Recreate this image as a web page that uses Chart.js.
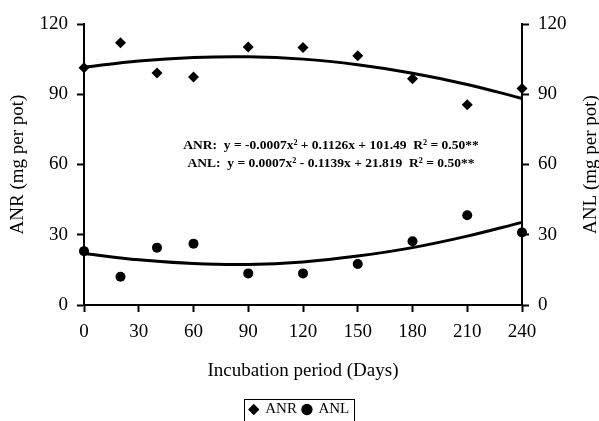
<!DOCTYPE html>
<html>
<head>
<meta charset="utf-8">
<script src="https://cdn.jsdelivr.net/npm/chart.js@4"></script>
<style>
  html, body { margin: 0; padding: 0; background: #fff; }
  canvas { display: block; }
</style>
</head>
<body>
<canvas id="anChart" width="599" height="421"></canvas>
<script>
// Observed data (days of incubation)
const anrDays = [0, 20, 40, 60, 90, 120, 150, 180, 210, 240];
const anrValues = [101.3, 112, 99.1, 97.4, 110.2, 110, 106.4, 96.6, 85.5, 92.5];

const anlDays = [0, 20, 40, 60, 90, 120, 150, 180, 210, 240];
const anlValues = [23, 12.1, 24.5, 26.2, 13.5, 13.5, 17.5, 27.2, 38.3, 31];

// Fitted curves
const trendDays = [0, 30, 60, 90, 120, 150, 180, 210, 240];
const anrTrend = [101.5, 104.2, 105.7, 106, 105, 102.6, 99, 94.2, 88.2];
const anlTrend = [22, 19.3, 17.7, 17.3, 18.4, 20.9, 24.5, 29.4, 35.3];

const xTicks = [0, 30, 60, 90, 120, 150, 180, 210, 240];
const yTicks = [0, 30, 60, 90, 120];

const eqLines = [
    'ANR:  y = -0.0007x\u00B2 + 0.1126x + 101.49  R\u00B2 = 0.50**',
    'ANL:  y = 0.0007x\u00B2 - 0.1139x + 21.819  R\u00B2 = 0.50**'
];

const serif = "'Liberation Serif', 'Times New Roman', serif";

const toPoints = (xs, ys) => xs.map((x, i) => ({ x: x, y: ys[i] }));

// y axis shared settings
function yAxis(position) {
    return {
        type: 'linear',
        position: position,
        min: 0,
        max: 120,
        afterBuildTicks: s => { s.ticks = yTicks.map(v => ({ value: v })); },
        ticks: { color: '#000', padding: 9, font: { family: serif, size: 19 } },
        grid: { drawOnChartArea: false, drawTicks: true, tickLength: 7, tickWidth: 2, color: '#000' },
        border: { display: true, color: '#000', width: 2 }
    };
}

// extra text: right title, equations, legend frame
const extrasPlugin = {
    id: 'extras',
    afterInit(chart) {
        const legend = chart.legend;
        if (legend) {
            const origFit = legend.fit;
            legend.fit = function () {
                origFit.call(this);
                this.height = 25;
            };
        }
    },
    afterDraw(chart) {
        const ctx = chart.ctx;
        const area = chart.chartArea;
        ctx.save();
        ctx.fillStyle = '#000';
        ctx.font = '19px ' + serif;
        ctx.textAlign = 'center';
        ctx.textBaseline = 'middle';
        ctx.translate(591, (area.top + area.bottom) / 2);
        ctx.rotate(-Math.PI / 2);
        ctx.fillText('ANL (mg per pot)', 0, 0);
        ctx.restore();

        ctx.save();
        ctx.fillStyle = '#000';
        ctx.font = 'bold 13.5px ' + serif;
        ctx.textAlign = 'center';
        ctx.textBaseline = 'middle';
        ctx.fillText(eqLines[0], 331, 146);
        ctx.fillText(eqLines[1], 331, 164);
        ctx.restore();

        const boxes = chart.legend.legendHitBoxes;
        if (boxes && boxes.length) {
            const x0 = Math.min(...boxes.map(b => b.left)) - 6;
            const x1 = Math.max(...boxes.map(b => b.left + b.width)) + 5;
            const y0 = Math.min(...boxes.map(b => b.top)) - 3;
            ctx.save();
            ctx.strokeStyle = '#000';
            ctx.lineWidth = 1;
            ctx.strokeRect(Math.round(x0) + 0.5, Math.round(y0) + 0.5, Math.round(x1 - x0), 30);
            ctx.restore();
        }
    }
};

new Chart(document.getElementById('anChart'), {
    type: 'scatter',
    data: {
        datasets: [
            {
                label: 'ANR',
                data: toPoints(anrDays, anrValues),
                yAxisID: 'y',
                pointStyle: 'rectRot',
                pointRadius: 5.5,
                backgroundColor: '#000',
                borderColor: '#000',
                borderWidth: 0,
                clip: false
            },
            {
                label: 'ANL',
                data: toPoints(anlDays, anlValues),
                yAxisID: 'y1',
                pointStyle: 'circle',
                pointRadius: 5,
                backgroundColor: '#000',
                borderColor: '#000',
                borderWidth: 0,
                clip: false
            },
            {
                label: 'ANR fit',
                data: toPoints(trendDays, anrTrend),
                yAxisID: 'y',
                showLine: true,
                pointRadius: 0,
                borderColor: '#000',
                borderWidth: 3,
                tension: 0.4,
                clip: false
            },
            {
                label: 'ANL fit',
                data: toPoints(trendDays, anlTrend),
                yAxisID: 'y1',
                showLine: true,
                pointRadius: 0,
                borderColor: '#000',
                borderWidth: 3,
                tension: 0.4,
                clip: false
            }
        ]
    },
    options: {
        responsive: false,
        animation: false,
        layout: { padding: { top: 24, left: 0, right: 0, bottom: 0 } },
        plugins: {
            legend: {
                position: 'bottom',
                labels: {
                    usePointStyle: true,
                    boxWidth: 8,
                    boxHeight: 8,
                    padding: 6,
                    color: '#000',
                    font: { family: serif, size: 15 },
                    filter: item => item.datasetIndex < 2
                }
            },
            tooltip: { enabled: false }
        },
        scales: {
            x: {
                type: 'linear',
                min: 0,
                max: 240,
                afterBuildTicks: s => { s.ticks = xTicks.map(v => ({ value: v })); },
                afterFit: s => { s.height = 91; },
                ticks: { color: '#000', padding: 9, maxRotation: 0, font: { family: serif, size: 19 } },
                grid: { drawOnChartArea: false, drawTicks: true, tickLength: 7, tickWidth: 2, color: '#000' },
                border: { display: true, color: '#000', width: 2 },
                title: {
                    display: true,
                    text: 'Incubation period (Days)',
                    color: '#000',
                    font: { family: serif, size: 19 },
                    padding: { top: 0, bottom: 14 }
                }
            },
            y: {
                ...yAxis('left'),
                afterFit: s => { s.width = 84; },
                title: {
                    display: true,
                    text: 'ANR (mg per pot)',
                    color: '#000',
                    font: { family: serif, size: 19 },
                    padding: { top: 7, bottom: 0 }
                }
            },
            y1: {
                ...yAxis('right'),
                afterFit: s => { s.width = 77; }
            }
        }
    },
    plugins: [extrasPlugin]
});
</script>
</body>
</html>
